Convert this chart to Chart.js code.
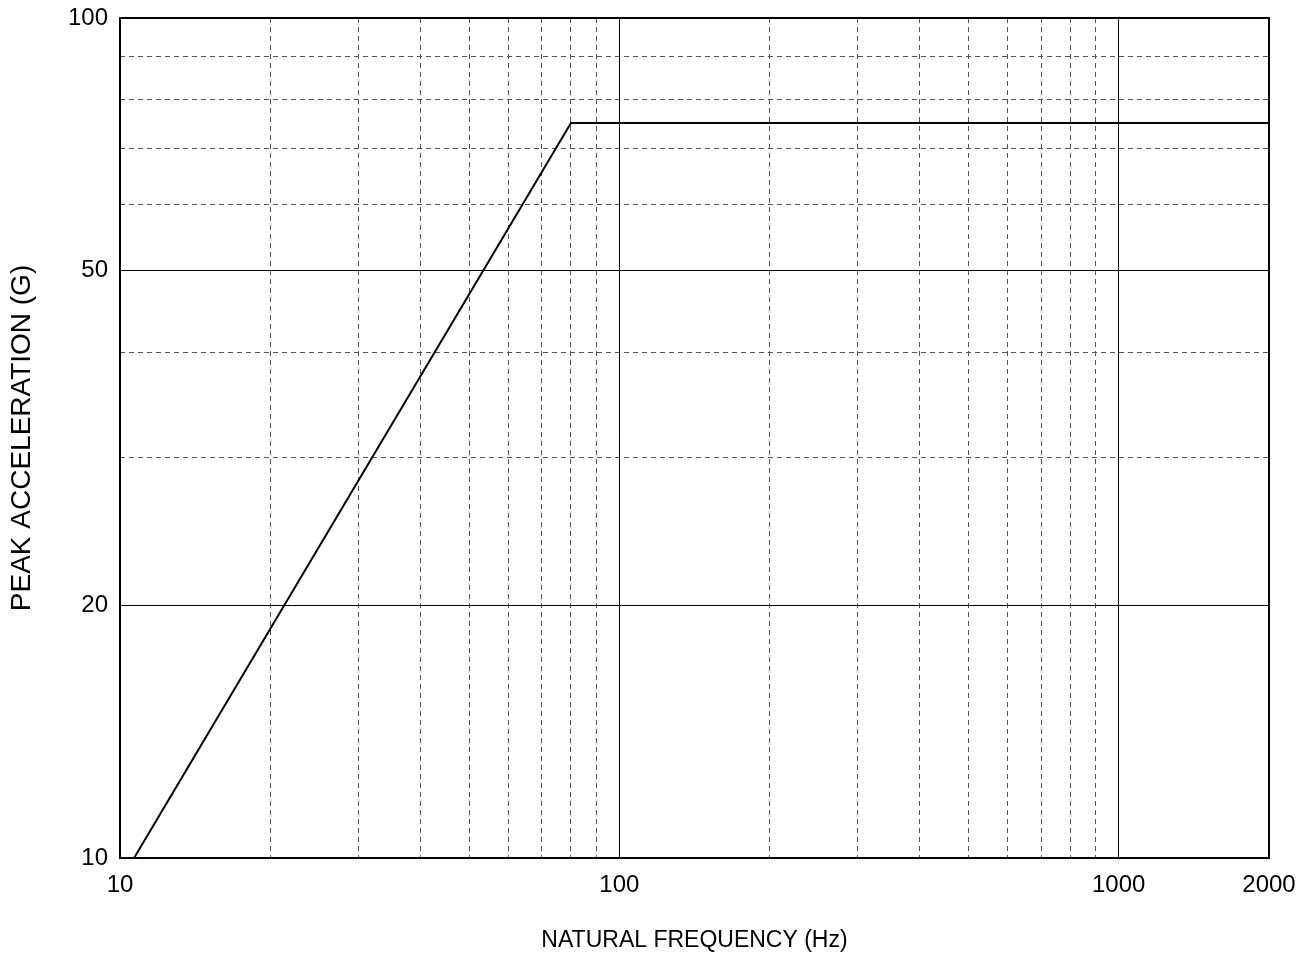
<!DOCTYPE html>
<html>
<head>
<meta charset="utf-8">
<script src="https://cdn.jsdelivr.net/npm/chart.js@4/dist/chart.umd.min.js"></script>
<style>
  html, body { margin: 0; padding: 0; background: #fff; }
  #wrap { width: 1311px; height: 960px; position: relative; }
</style>
</head>
<body>
<div id="wrap"><canvas id="c"></canvas></div>
<script>
// ---- data ----
const frequencyHz = [10.67, 80, 2000];
const peakAccelG = [10, 75, 75];

const xLabelTicks = [10, 100, 1000, 2000];
const xSolidGrid = [100, 1000];
const xDashedGrid = [20, 30, 40, 50, 60, 70, 80, 90, 200, 300, 400, 500, 600, 700, 800, 900];

const yLabelTicks = [10, 20, 50, 100];
const ySolidGrid = [20, 50];
const yDashedGrid = [30, 40, 60, 70, 80, 90];

const xTitle = 'NATURAL FREQUENCY (Hz)';
const yTitle = 'PEAK ACCELERATION (G)';

const FONT = "'Liberation Sans Narrow', 'Arial Narrow', 'Liberation Sans', Arial, sans-serif";

const points = frequencyHz.map((f, i) => ({ x: f, y: peakAccelG[i] }));
const setTicks = vals => s => { s.ticks = vals.map(v => ({ value: v })); };

new Chart(document.getElementById('c'), {
  type: 'scatter',
  data: {
    datasets: [{
      data: points,
      showLine: true,
      borderColor: '#000',
      borderWidth: 2,
      pointRadius: 0,
      tension: 0,
      fill: false
    }]
  },
  options: {
    responsive: true,
    maintainAspectRatio: false,
    animation: false,
    layout: { padding: 0 },
    plugins: { legend: { display: false }, tooltip: { enabled: false } },
    scales: {
      xd: {
        type: 'logarithmic', position: 'bottom', min: 10, max: 2000,
        afterBuildTicks: setTicks(xDashedGrid),
        afterFit: s => { s.height = 0; s.paddingLeft = 0; s.paddingRight = 0; },
        ticks: { display: false },
        border: { display: false, dash: [5, 4] },
        grid: { drawTicks: false, color: '#555', lineWidth: 1 }
      },
      yd: {
        type: 'logarithmic', position: 'left', min: 10, max: 100,
        afterBuildTicks: setTicks(yDashedGrid),
        afterFit: s => { s.width = 0; s.paddingTop = 0; s.paddingBottom = 0; },
        ticks: { display: false },
        border: { display: false, dash: [5, 4] },
        grid: { drawTicks: false, color: '#555', lineWidth: 1 }
      },
      x: {
        type: 'logarithmic', position: 'bottom', min: 10, max: 2000,
        afterBuildTicks: setTicks(xLabelTicks),
        afterFit: s => { s.height = 102; s.paddingLeft = 0; s.paddingRight = 0; },
        ticks: {
          autoSkip: false, maxRotation: 0, padding: 13, color: '#000',
          font: { family: FONT, size: 24 },
          callback: v => String(v)
        },
        border: { display: true, color: '#000', width: 2 },
        grid: {
          drawTicks: false, lineWidth: 1,
          color: c => (c.tick && xSolidGrid.includes(c.tick.value)) ? '#000' : 'rgba(0,0,0,0)'
        },
        title: {
          display: true, text: xTitle, color: '#000',
          font: { family: FONT, size: 23 }, padding: { top: 0, bottom: 6 }
        }
      },
      y: {
        type: 'logarithmic', position: 'left', min: 10, max: 100,
        afterBuildTicks: setTicks(yLabelTicks),
        afterFit: s => { s.width = 120; s.paddingTop = 0; s.paddingBottom = 0; },
        ticks: {
          autoSkip: false, padding: 12, color: '#000',
          font: { family: FONT, size: 24 },
          callback: v => String(v)
        },
        border: { display: true, color: '#000', width: 2 },
        grid: {
          drawTicks: false, lineWidth: 1,
          color: c => (c.tick && ySolidGrid.includes(c.tick.value)) ? '#000' : 'rgba(0,0,0,0)'
        },
        title: {
          display: true, text: yTitle, color: '#000',
          font: { family: FONT, size: 28 }, padding: { top: 5, bottom: 0 }
        }
      },
      x2: {
        type: 'logarithmic', position: 'top', min: 10, max: 2000,
        afterBuildTicks: setTicks([]),
        afterFit: s => { s.height = 18; s.paddingLeft = 0; s.paddingRight = 0; },
        ticks: { display: false },
        border: { display: true, color: '#000', width: 2 },
        grid: { display: false, drawTicks: false }
      },
      y2: {
        type: 'logarithmic', position: 'right', min: 10, max: 100,
        afterBuildTicks: setTicks([]),
        afterFit: s => { s.width = 42; s.paddingTop = 0; s.paddingBottom = 0; },
        ticks: { display: false },
        border: { display: true, color: '#000', width: 2 },
        grid: { display: false, drawTicks: false }
      }
    }
  }
});
</script>
</body>
</html>
